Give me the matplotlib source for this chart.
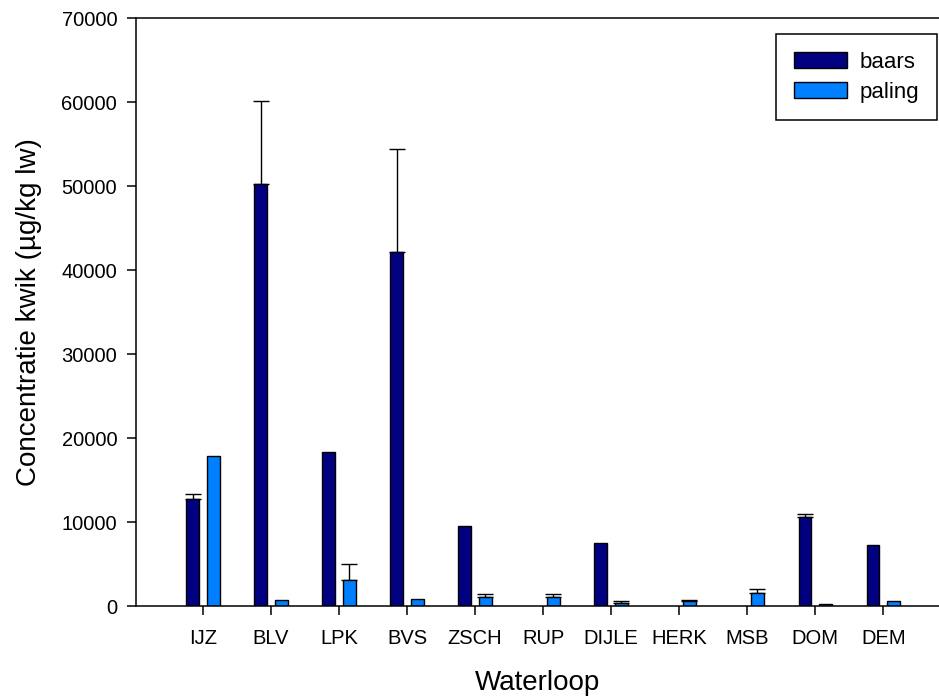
import numpy as np
import matplotlib
matplotlib.use("Agg")
import matplotlib.pyplot as plt

plt.rcParams['font.family'] = ['Liberation Sans', 'DejaVu Sans']

# Sites (waterlopen) and mean mercury concentration per species
sites = ["IJZ", "BLV", "LPK", "BVS", "ZSCH", "RUP", "DIJLE", "HERK", "MSB", "DOM", "DEM"]
baars = [12700, 50200, 18300, 42100, 9500, np.nan, 7500, np.nan, np.nan, 10600, 7300]
paling = [17900, 750, 3100, 850, 1050, 1050, 400, 600, 1600, 250, 600]
# Upper error (standard deviation); NaN = no error bar
baars_err = [600, 9900, np.nan, 12300, np.nan, np.nan, np.nan, np.nan, np.nan, 300, np.nan]
paling_err = [np.nan, np.nan, 1900, np.nan, 420, 420, 200, 100, 450, np.nan, np.nan]

y_ticks = [0, 10000, 20000, 30000, 40000, 50000, 60000, 70000]

fig = plt.figure(figsize=(9.39, 6.99), dpi=100)
ax = fig.add_axes([136 / 939, 93 / 699, (939 - 136) / 939, 588 / 699])

x = np.arange(len(sites))
width = 0.19
offset = 0.15
col_baars = "#000080"
col_paling = "#0080ff"

ax.bar(x - offset, baars, width, color=col_baars, edgecolor="black",
       linewidth=1.0, label="baars", zorder=2)
ax.bar(x + offset, paling, width, color=col_paling, edgecolor="black",
       linewidth=1.0, label="paling", zorder=2)


def upper_errors(xpos, vals, errs):
    vals = np.asarray(vals, float)
    errs = np.asarray(errs, float)
    keep = np.isfinite(vals) & np.isfinite(errs)
    ax.errorbar(xpos[keep], vals[keep],
                yerr=[np.zeros(keep.sum()), errs[keep]],
                fmt="none", ecolor="black", elinewidth=1.0,
                capsize=6.1, capthick=1.0, zorder=1)


upper_errors(x - offset, baars, baars_err)
upper_errors(x + offset, paling, paling_err)

ax.set_xlim(-0.985, 10.82)
ax.set_ylim(0, 70000)
ax.set_yticks(y_ticks)
ax.set_yticklabels([str(v) for v in y_ticks])
ax.set_xticks(x)
ax.set_xticklabels(sites)

ax.spines["right"].set_visible(False)
for s in ("left", "bottom", "top"):
    ax.spines[s].set_linewidth(1.1)

ax.tick_params(axis="both", direction="out", length=6.5, width=1.1,
               labelsize=14.5, colors="black")
ax.tick_params(axis="x", pad=10)
ax.tick_params(axis="y", pad=7)

ax.set_xlabel("Waterloop", fontsize=20, labelpad=16)
ax.set_ylabel("Concentratie kwik (µg/kg lw)", fontsize=20, labelpad=14)

leg = ax.legend(loc="upper right", bbox_to_anchor=(937 / 939, 1 - 34 / 699),
                bbox_transform=fig.transFigure, fontsize=16, frameon=True,
                fancybox=False, edgecolor="black", framealpha=1,
                handlelength=2.4, handleheight=0.73, handletextpad=0.55,
                borderpad=0.8, labelspacing=0.4, borderaxespad=0)
leg.get_frame().set_linewidth(1.1)

fig.savefig("out.png", dpi=100)
